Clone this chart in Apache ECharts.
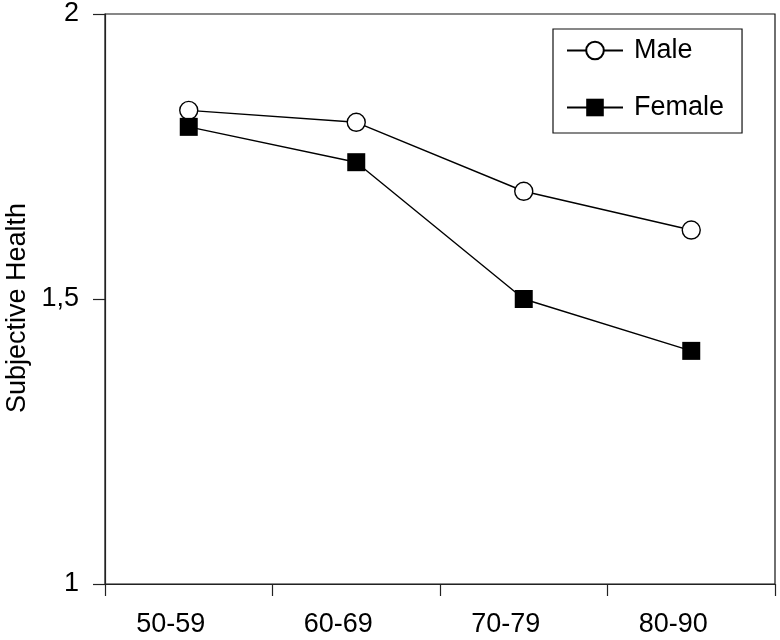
<!DOCTYPE html>
<html>
<head>
<meta charset="utf-8">
<script src="https://cdn.jsdelivr.net/npm/echarts@6/dist/echarts.min.js"></script>
<style>html,body{margin:0;padding:0;background:#fff}#c{width:780px;height:640px}</style>
</head>
<body>
<div id="c"></div>
<script>
const categories = ['50-59', '60-69', '70-79', '80-90'];
const maleValues = [1.831, 1.810, 1.689, 1.621];
const femaleValues = [1.802, 1.740, 1.500, 1.409];
const yTicks = [1, 1.5, 2];
const yTickLabels = ['1', '1,5', '2'];
const seriesNames = ['Male', 'Female'];
const yAxisTitle = 'Subjective Health';

const FONT = '"Liberation Sans", Arial, sans-serif';
const FS = 27;
const chart = echarts.init(document.getElementById('c'), null, {renderer: 'canvas'});
chart.setOption({
  animation: false,
  backgroundColor: '#fff',
  textStyle: {fontFamily: FONT},
  grid: {left: 105, right: 5, top: 14, bottom: 56, show: true, borderColor: '#111', borderWidth: 1.2,
         containLabel: false, outerBoundsMode: 'none'},
  legend: {
    data: seriesNames,
    orient: 'vertical',
    left: 553, top: 29,
    itemWidth: 56, itemHeight: 22,
    itemGap: 30,
    padding: [8, 18, 12, 13],
    borderColor: '#111', borderWidth: 1.2,
    textStyle: {fontFamily: FONT, fontSize: FS, color: '#000', padding: [0, 0, 0, 6]}
  },
  xAxis: {
    type: 'category',
    data: categories,
    boundaryGap: true,
    axisLine: {lineStyle: {color: '#222', width: 1.2}},
    axisTick: {show: true, inside: false, length: 12, lineStyle: {color: '#222', width: 1.2}},
    axisLabel: {fontFamily: FONT, fontSize: FS, color: '#000', margin: 27, padding: [0, 36, 0, 0]},
    splitLine: {show: false}
  },
  yAxis: {
    type: 'value',
    min: yTicks[0], max: yTicks[yTicks.length - 1], interval: 0.5,
    name: yAxisTitle,
    nameLocation: 'middle',
    nameRotate: 90,
    nameGap: 73,
    nameTextStyle: {fontFamily: FONT, fontSize: FS, color: '#000', padding: [0, 18, 0, 0]},
    axisLine: {show: true, lineStyle: {color: '#222', width: 1.2}},
    axisTick: {show: true, inside: false, length: 12, lineStyle: {color: '#222', width: 1.2}},
    axisLabel: {
      fontFamily: FONT, fontSize: FS, color: '#000', margin: 26,
      formatter: function (v) { const i = yTicks.indexOf(v); return i >= 0 ? yTickLabels[i] : ''; }
    },
    splitLine: {show: false}
  },
  series: [
    {
      name: seriesNames[0], type: 'line', data: maleValues,
      symbol: 'circle', symbolSize: 18,
      lineStyle: {color: '#000', width: 1.4},
      itemStyle: {color: '#fff', borderColor: '#000', borderWidth: 1.4},
      z: 3
    },
    {
      name: seriesNames[1], type: 'line', data: femaleValues,
      symbol: 'rect', symbolSize: 18,
      lineStyle: {color: '#000', width: 1.4},
      itemStyle: {color: '#000', borderColor: '#000', borderWidth: 0},
      z: 3
    }
  ]
});
</script>
</body>
</html>
